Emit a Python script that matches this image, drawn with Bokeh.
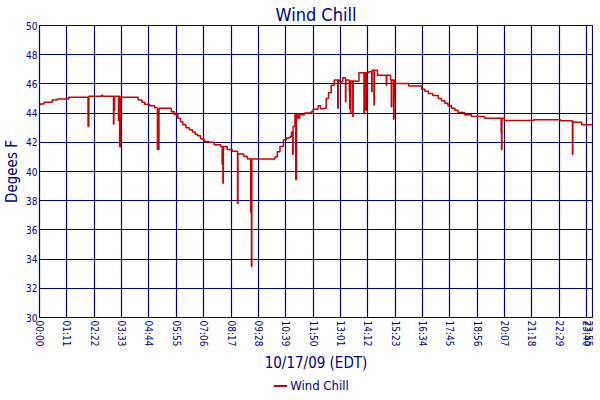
from bokeh.plotting import figure
from bokeh.layouts import column
from bokeh.models import FixedTicker, Legend, LegendItem, Range1d, ColumnDataSource
from bokeh.embed import file_html
from bokeh.resources import INLINE

# minutes after midnight (10/17/09, EDT)
minutes = [0, 2, 12, 33, 46, 76, 125, 126, 128, 161, 164, 191, 192, 193, 194, 195,
           204, 205, 207, 208, 210, 254, 256, 266, 273, 286, 299, 305, 306, 308, 310,
           333, 342, 350, 359, 366, 372, 380, 389, 397, 404, 410, 418, 427, 440, 453,
           470, 474, 475, 476, 477, 487, 500, 513, 514, 515, 530, 539, 547, 548, 549,
           550, 551, 607, 611, 617, 624, 633, 641, 650, 654, 657, 658, 663, 665, 667,
           671, 675, 688, 705, 710, 723, 729, 740, 744, 750, 757, 765, 773, 774, 775,
           778, 787, 793, 794, 795, 803, 804, 805, 806, 807, 808, 812, 813, 814, 821,
           829, 841, 842, 843, 846, 847, 848, 854, 861, 862, 863, 867, 868, 869, 877,
           890, 899, 900, 901, 911, 912, 913, 914, 918, 919, 920, 921, 922, 954, 958,
           988, 992, 1000, 1009, 1020, 1035, 1043, 1052, 1060, 1069, 1078, 1086, 1103,
           1121, 1155, 1197, 1198, 1199, 1200, 1206, 1283, 1352, 1382, 1383, 1384, 1386,
           1407, 1435]
wind_chill = [44.55, 44.62, 44.74, 44.9, 44.97, 45.08, 45.08, 43.08, 45.15, 45.22, 45.15, 45.15, 43.24, 45.15, 44.2, 45.15,
              45.15, 43.5, 45.15, 41.7, 45.08, 45.08, 44.9, 44.75, 44.6, 44.5, 44.37, 44.33, 41.5, 41.5, 44.33,
              44.33, 44.1, 43.9, 43.65, 43.4, 43.2, 43.0, 42.86, 42.7, 42.55, 42.45, 42.25, 42.06, 42.0, 41.84,
              41.72, 40.5, 40.5, 39.2, 41.72, 41.5, 41.38, 41.38, 37.8, 41.2, 41.04, 40.88, 40.88, 37.2, 37.2,
              33.5, 40.86, 40.86, 41.0, 41.35, 41.72, 42.18, 42.3, 42.4, 42.7, 41.16, 43.08, 43.88, 39.46, 43.88,
              43.65, 43.88, 44.0, 44.1, 44.26, 44.5, 44.29, 44.33, 45.0, 45.4, 45.9, 46.26, 46.26, 44.33, 46.26,
              46.14, 46.42, 46.42, 44.78, 46.26, 46.26, 45.5, 44.3, 46.2, 44.0, 46.2, 46.2, 43.76, 46.2, 46.19,
              46.76, 46.76, 43.99, 46.76, 46.76, 44.2, 46.76, 46.83, 46.83, 45.46, 46.94, 46.94, 44.56, 46.94, 46.6,
              46.6, 46.6, 45.9, 46.6, 46.26, 46.26, 44.44, 46.26, 46.26, 43.58, 46.26, 44.9, 46.03, 46.03, 45.85,
              45.85, 45.63, 45.5, 45.35, 45.2, 45.0, 44.85, 44.67, 44.5, 44.33, 44.2, 44.04, 43.88,
              43.76, 43.65, 43.65, 42.63, 41.5, 43.65, 43.49, 43.54, 43.47, 43.45, 41.16, 43.45, 43.38,
              43.2, 43.15]

tick_minutes = [0, 71, 142, 213, 284, 355, 426, 497, 568, 639, 710, 781, 852, 923,
                994, 1065, 1136, 1207, 1278, 1349, 1420, 1435]
tick_labels = ["00:00", "01:11", "02:22", "03:33", "04:44", "05:55", "07:06", "08:17",
               "09:28", "10:39", "11:50", "13:01", "14:12", "15:23", "16:34", "17:45",
               "18:56", "20:07", "21:18", "22:29", "23:40", "23:55"]
y_ticks = [30, 32, 34, 36, 38, 40, 42, 44, 46, 48, 50]

NAVY = "#000080"
RED = "#CC0000"
FONT = "DejaVu Sans Condensed"

src = ColumnDataSource(data=dict(t=minutes, v=wind_chill))

p = figure(frame_width=553, frame_height=292, output_backend="svg", toolbar_location=None,
           x_range=Range1d(0, 1435), y_range=Range1d(30, 50),
           min_border_left=0, min_border_right=1, min_border_top=0, min_border_bottom=0)

p.title.text = "Wind Chill"
p.title.align = "center"
p.title.text_color = NAVY
p.title.text_font = FONT
p.title.text_font_size = "18px"
p.title.text_font_style = "normal"
p.title.standoff = 2

r = p.step("t", "v", source=src, mode="after", line_color=RED, line_width=1.5)

p.xaxis.ticker = FixedTicker(ticks=tick_minutes)
p.xaxis.major_label_overrides = {m: s for m, s in zip(tick_minutes, tick_labels)}
p.xaxis.major_label_orientation = "vertical"
p.yaxis.ticker = FixedTicker(ticks=y_ticks)

for ax in (p.xaxis, p.yaxis):
    ax.axis_line_color = None
    ax.major_tick_line_color = None
    ax.minor_tick_line_color = None
    ax.major_tick_out = 0
    ax.major_tick_in = 0
    ax.major_label_text_color = NAVY
    ax.major_label_text_font = FONT
    ax.major_label_text_font_size = "10px"
    ax.axis_label_text_color = NAVY
    ax.axis_label_text_font = FONT
    ax.axis_label_text_font_size = "15px"
    ax.axis_label_text_font_style = "normal"

p.xaxis.major_label_standoff = 3
p.yaxis.major_label_standoff = 2
p.xaxis.axis_label = "10/17/09 (EDT)"
p.yaxis.axis_label = "Degees F"
p.xaxis.axis_label_standoff = 5
p.yaxis.axis_label_standoff = 2

p.xgrid.grid_line_color = NAVY
p.ygrid.grid_line_color = NAVY
p.xgrid.grid_line_width = 1.2
p.ygrid.grid_line_width = 1.2
p.outline_line_color = NAVY
p.outline_line_width = 1.2
p.background_fill_color = "white"
p.border_fill_color = "white"

# legend strip below the chart (series drawn out of view only to key the legend)
p2 = figure(width=584, height=20, output_backend="svg", toolbar_location=None,
            x_range=Range1d(0, 1435), y_range=Range1d(100, 101),
            x_axis_type=None, y_axis_type=None,
            min_border_left=0, min_border_right=0, min_border_top=0, min_border_bottom=0)
p2.grid.visible = False
p2.outline_line_color = None
r2 = p2.step("t", "v", source=src, mode="after", line_color=RED, line_width=2)
legend = Legend(items=[LegendItem(label="Wind Chill", renderers=[r2])],
                orientation="horizontal", location="center",
                border_line_alpha=0, background_fill_alpha=0,
                label_text_color=NAVY, label_text_font=FONT, label_text_font_size="13px",
                glyph_width=14, glyph_height=10, padding=0, margin=0, label_standoff=3,
                label_height=14)
p2.add_layout(legend)

layout = column(p, p2, spacing=0)
open("out.html", "w").write(file_html(layout, INLINE))
